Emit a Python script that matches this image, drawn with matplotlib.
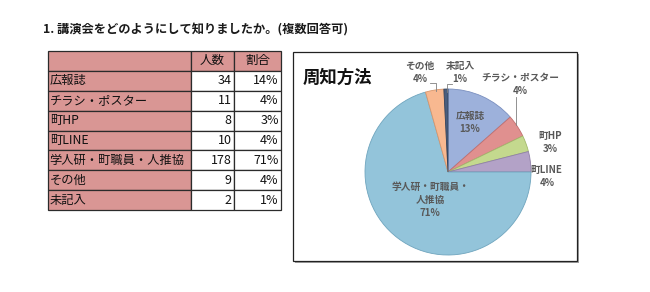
import matplotlib.pyplot as plt
from matplotlib.patches import Rectangle

plt.rcParams['font.family'] = ['Noto Sans CJK JP', 'DejaVu Sans']

# data
categories = ['広報誌', 'チラシ・ポスター', '町HP', '町LINE', '学人研・町職員・人推協', 'その他', '未記入']
counts = [34, 11, 8, 10, 178, 9, 2]
table_pct = ['14%', '4%', '3%', '4%', '71%', '4%', '1%']
pie_names = ['広報誌', 'チラシ・ポスター', '町HP', '町LINE', '学人研・町職員・\n人推協', 'その他', '未記入']
headers = ['', '人数', '割合']

slice_colors = ['#9DB1DB', '#E0908F', '#C4D98E', '#B3A2C7', '#93C4DA', '#F8B890', '#4A5E7E']
edge_colors = ['#7A8FBF', '#C26F6E', '#A2B96C', '#9080A8', '#6FA5BE', '#D8966C', '#33445F']

W, H = 650, 292


def px(x, y, w, h):
    # pixel box (top-left origin) -> figure fraction
    return [x / W, 1 - (y + h) / H, w / W, h / H]


fig = plt.figure(figsize=(6.5, 2.92), dpi=100)

fig.text(43 / W, 1 - 30 / H, '1. 講演会をどのようにして知りましたか。(複数回答可)',
         fontsize=8.8, fontweight='bold', va='center', ha='left', color='#1a1a1a')

# table
tax = fig.add_axes(px(48, 51, 233, 159))
tax.axis('off')
rows = [[c, str(n), p] for c, n, p in zip(categories, counts, table_pct)]
tbl = tax.table(cellText=[headers] + rows, colWidths=[143, 43, 47], bbox=[0, 0, 1, 1])
tbl.auto_set_font_size(False)
for (r, c), cell in tbl.get_celld().items():
    cell.set_edgecolor('#2b2b2b')
    cell.set_linewidth(0.9)
    txt = cell.get_text()
    txt.set_fontsize(9.0 if c else 8.8)
    txt.set_color('#111111')
    if r == 0 or c == 0:
        cell.set_facecolor('#D99694')
    else:
        cell.set_facecolor('white')
    if r == 0:
        cell._loc = 'center'
        txt.set_ha('center')
    elif c == 0:
        cell._loc = 'left'
        cell.PAD = 0.012
        txt.set_ha('left')
    else:
        cell._loc = 'right'
        cell.PAD = 0.05
        txt.set_ha('right')

# pie frame with shadow
fig.patches.append(Rectangle((295 / W, 1 - 263 / H), 284 / W, 209 / H, transform=fig.transFigure,
                             facecolor='#a0a0a0', edgecolor='none', zorder=-2))
fig.patches.append(Rectangle((293 / W, 1 - 261 / H), 284 / W, 209 / H, transform=fig.transFigure,
                             facecolor='white', edgecolor='#222222', linewidth=0.9, zorder=-1))

fig.text(303 / W, 1 - 78 / H, '周知方法', fontsize=12.5, fontweight='bold',
         va='center', ha='left', color='#111111')

# pie
pax = fig.add_axes(px(448 - 83, 172 - 83, 166, 166))
pax.set_zorder(2)
wedges, _ = pax.pie(counts, colors=slice_colors, startangle=90, counterclock=False,
                    wedgeprops=dict(linewidth=0.6))
for w, ec in zip(wedges, edge_colors):
    w.set_edgecolor(ec)
pax.set_xlim(-1, 1)
pax.set_ylim(-1, 1)
pax.set_aspect('equal')
pax.axis('off')

total = sum(counts)
label_xy = [(0.265, 0.60), (0.87, 1.05), (1.23, 0.36), (1.19, -0.05),
            (-0.217, -0.337), (-0.34, 1.20), (0.145, 1.20)]
for name, n, (x, y) in zip(pie_names, counts, label_xy):
    pax.text(x, y, f'{name}\n{round(n / total * 100)}%', ha='center', va='center',
             fontsize=7.0, fontweight='bold', color='#595959', linespacing=1.35, clip_on=False)

# leader lines
pax.plot([0.82, 0.82], [0.90, 0.57], color='#808080', lw=0.6, clip_on=False)
pax.plot([-0.22, -0.15, -0.15], [1.07, 1.07, 0.97], color='#808080', lw=0.6, clip_on=False)
pax.plot([0.05, -0.01, -0.01], [1.06, 1.06, 0.96], color='#808080', lw=0.6, clip_on=False)

fig.savefig('out.png', dpi=100)
